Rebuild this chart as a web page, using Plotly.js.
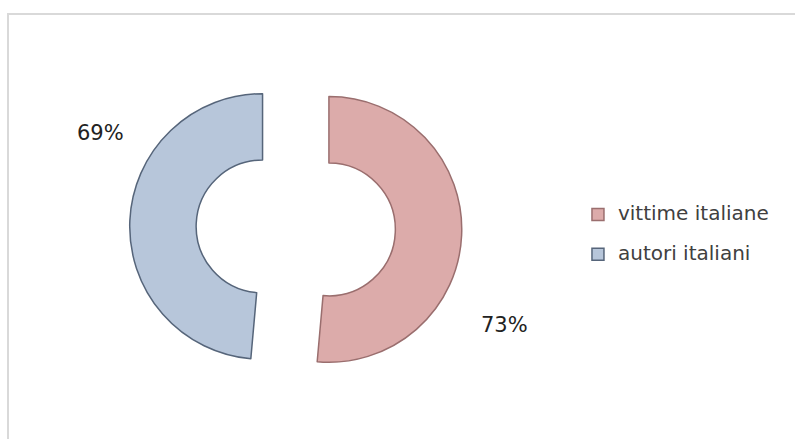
<!DOCTYPE html>
<html>
<head>
<meta charset="utf-8">
<script src="https://cdn.plot.ly/plotly-3.0.1.min.js"></script>
<style>
  html, body { margin: 0; padding: 0; background: #ffffff; }
  #frame { position: absolute; left: 7px; top: 13px; width: 800px; height: 440px;
           border-left: 2px solid #d9d9d9; border-top: 2px solid #d9d9d9; }
  #chart { position: absolute; left: 0; top: 0; width: 795px; height: 439px; }
</style>
</head>
<body>
<div id="frame"></div>
<div id="chart"></div>
<script>
const labels = ["vittime italiane", "autori italiani"];
const values = [73, 69];
const pctLabels = ["73%", "69%"];
const colors = ["#dcabaa", "#b7c6da"];
const edgeColors = ["#9a6e6e", "#56657a"];

// legend entries: larger text span plus an empty second line for wider row spacing
const legendLabels = labels.map(l => '<span style="font-size:20px">' + l + '</span><br> ');

const trace = {
  type: "pie",
  labels: legendLabels,
  values: values,
  hole: 0.5,
  pull: 0.25,
  sort: false,
  direction: "clockwise",
  rotation: 0,
  textinfo: "none",
  hoverinfo: "percent",
  marker: { colors: colors, line: { color: edgeColors, width: 1.5 } },
  domain: { x: [0.163, 0.581], y: [0.1025, 0.859] }
};

const layout = {
  width: 795,
  height: 439,
  margin: { l: 0, r: 0, t: 0, b: 0 },
  paper_bgcolor: "rgba(0,0,0,0)",
  plot_bgcolor: "rgba(0,0,0,0)",
  font: { family: "DejaVu Sans, sans-serif", color: "#404040", size: 17 },
  showlegend: true,
  legend: {
    x: 0.727, y: 0.445, xanchor: "left", yanchor: "middle",
    valign: "top",
    font: { family: "DejaVu Sans, sans-serif", size: 14.2, color: "#404040" },
    bgcolor: "rgba(0,0,0,0)", traceorder: "normal"
  },
  annotations: [
    { text: pctLabels[1], x: 0.126, y: 0.697, xref: "paper", yref: "paper",
      xanchor: "center", yanchor: "middle", showarrow: false,
      font: { family: "DejaVu Sans, sans-serif", size: 21, color: "#222222" } },
    { text: pctLabels[0], x: 0.634, y: 0.26, xref: "paper", yref: "paper",
      xanchor: "center", yanchor: "middle", showarrow: false,
      font: { family: "DejaVu Sans, sans-serif", size: 21, color: "#222222" } }
  ]
};

Plotly.newPlot("chart", [trace], layout, { displayModeBar: false, staticPlot: true });
</script>
</body>
</html>
